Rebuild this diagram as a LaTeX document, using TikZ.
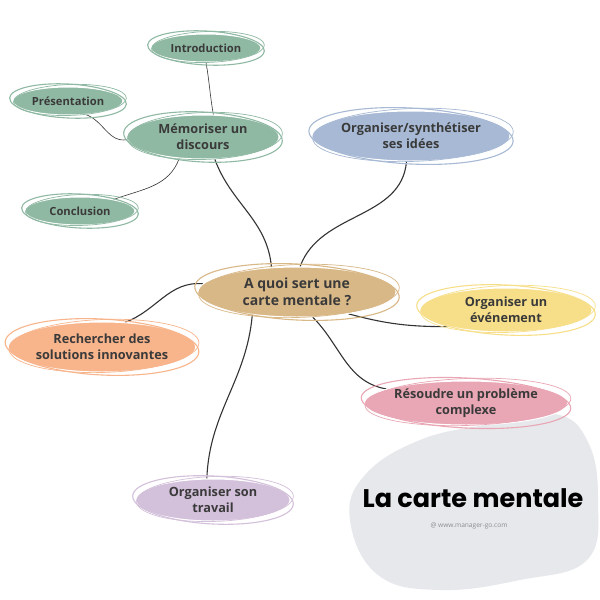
\documentclass[tikz,border=0pt]{standalone}
\usepackage{fontspec}
\setmainfont{Open Sans}
\newfontfamily\titlefont{Poppins}
\usepackage{xcolor}
\usetikzlibrary{backgrounds,calc,shapes.geometric}
\definecolor{mmtext}{HTML}{3A3A3A}
\definecolor{mmline}{HTML}{333333}
\definecolor{mmtan}{HTML}{D9B887}
\definecolor{mmgreen}{HTML}{8FB9A3}
\definecolor{mmblue}{HTML}{A7B9D4}
\definecolor{mmyellow}{HTML}{F7DF8A}
\definecolor{mmpink}{HTML}{E9A6B4}
\definecolor{mmorange}{HTML}{F8B48B}
\definecolor{mmpurple}{HTML}{D3C0DA}
\definecolor{mmblob}{HTML}{E6E8EC}
\tikzset{
  every picture/.append style={line cap=round,line join=round},
  mm bubble/.style={ellipse,fill=#1,draw=white,line width=1pt,inner sep=0pt,
    text=mmtext,align=center,font=\bfseries\fontsize{12.7}{16}\selectfont},
  mm small/.style={mm bubble=#1,font=\bfseries\fontsize{11.2}{13}\selectfont},
  mm ring/.style={draw=#1,line width=1.1pt},
  mm link/.style={draw=mmline,line width=1.1pt},
  mm twig/.style={draw=mmline,line width=0.6pt}
}
% two loose strokes round a bubble
\newcommand\mmrings[2]{%
  \draw[mm ring=#2,rotate around={-3:(#1.center)}]
    let \p1=($(#1.east)-(#1.west)$),\p2=($(#1.north)-(#1.south)$) in
    (#1.center) ellipse [x radius={0.5*\x1+3pt},y radius={0.5*\y2+2.5pt}];
  \draw[mm ring=#2,line width=0.7pt,rotate around={2:(#1.center)}]
    let \p1=($(#1.east)-(#1.west)$),\p2=($(#1.north)-(#1.south)$) in
    ($(#1.center)+(2,-1)$) ellipse [x radius={0.5*\x1+1pt},y radius={0.5*\y2+1pt}];
}

\begin{document}
\begin{tikzpicture}[x=1pt,y=-1pt]
  \useasboundingbox (0,0) rectangle (600,600);

  % centre and main branches
  \node[mm bubble=mmtan,minimum width=198,minimum height=50,font=\bfseries\fontsize{14}{17}\selectfont] (ctr) at (297,292) {A quoi sert une\\carte mentale ?};
  \node[mm bubble=mmgreen,minimum width=152,minimum height=44] (mem) at (203,137) {Mémoriser un\\discours};
  \node[mm bubble=mmblue,minimum width=176,minimum height=50] (syn) at (411,136) {Organiser/synthétiser\\ses idées};
  \node[mm bubble=mmyellow,minimum width=172,minimum height=44] (evt) at (506,310) {Organiser un\\événement};
  \node[mm bubble=mmpink,minimum width=192,minimum height=44] (res) at (466,403) {Résoudre un problème\\complexe};
  \node[mm bubble=mmorange,minimum width=184,minimum height=50] (rech) at (102,347) {Rechercher des\\solutions innovantes};
  \node[mm bubble=mmpurple,minimum width=154,minimum height=42] (trav) at (213,500) {Organiser son\\travail};

  % sub-branches of mem
  \node[mm small=mmgreen,minimum width=110,minimum height=28] (intro) at (206,48) {Introduction};
  \node[mm small=mmgreen,minimum width=110,minimum height=28] (pres) at (68,101) {Présentation};
  \node[mm small=mmgreen,minimum width=110,minimum height=28] (conc) at (80,211) {Conclusion};

  \mmrings{ctr}{mmtan}
  \mmrings{mem}{mmgreen}
  \mmrings{syn}{mmblue}
  \mmrings{evt}{mmyellow}
  \mmrings{res}{mmpink}
  \mmrings{rech}{mmorange}
  \mmrings{trav}{mmpurple}
  \mmrings{intro}{mmgreen}
  \mmrings{pres}{mmgreen}
  \mmrings{conc}{mmgreen}

  \node[font=\titlefont\bfseries\fontsize{25.5}{28}\selectfont,text=black] (title) at (473,498) {La carte mentale};
  \node[font=\fontsize{6.6}{7}\selectfont,text=black!45] (site) at (469,526) {@ www.manager-go.com};

  \begin{scope}[on background layer]
    \fill[white] (0,0) rectangle (600,600);
    \fill[mmblob] plot[smooth cycle,tension=0.7] coordinates {(555,414) (588,442) (598,500) (587,560) (520,580) (440,590) (378,575) (350,520) (365,475) (420,440) (490,424)};
    \draw[mm link] (ctr.136) to[out=95,in=-70] (mem.298);
    \draw[mm link] (ctr.83) to[out=70,in=-95] (syn.260);
    \draw[mm link] (ctr.175) to[out=175,in=20] (rech.47);
    \draw[mm link] (ctr.-23) to[out=-15,in=180] (evt.196);
    \draw[mm link] (ctr.-58) to[out=-45,in=170] (res.170);
    \draw[mm link] (ctr.207) to[out=-95,in=88] (trav.106);
    \draw[mm twig] (mem.65) to[out=100,in=-80] (intro.270);
    \draw[mm twig] (mem.182) to[out=190,in=-20] (pres.-37);
    \draw[mm twig] (mem.222) to[out=-110,in=20] (conc.19);
  \end{scope}
\end{tikzpicture}
\end{document}
